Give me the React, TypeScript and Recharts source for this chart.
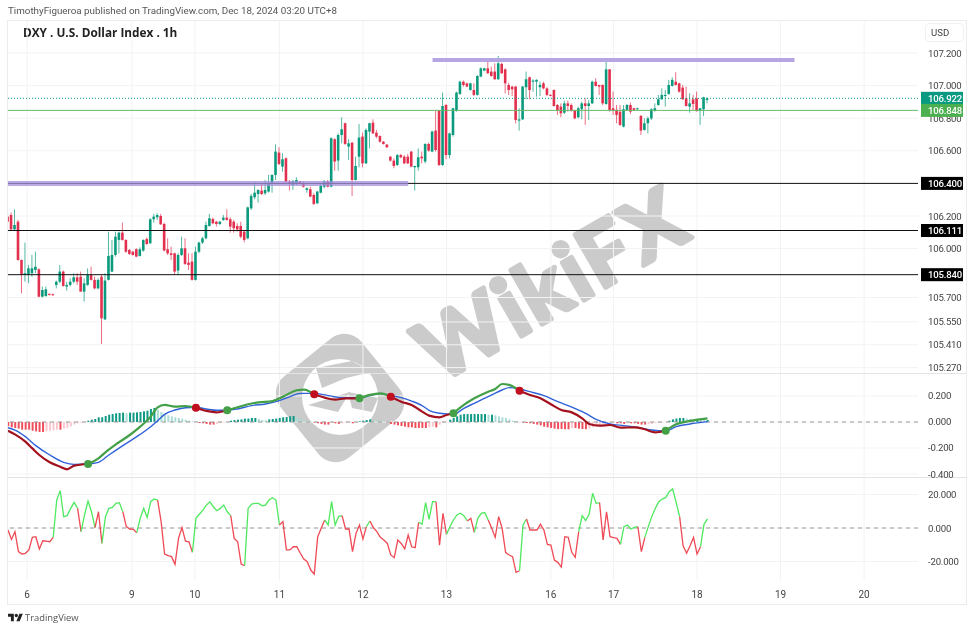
import {
  Bar,
  CartesianGrid,
  Cell,
  ComposedChart,
  Line,
  ReferenceDot,
  ReferenceLine,
  XAxis,
  YAxis,
} from "recharts";

const opens = [
  106.196, 106.206, 106.118, 106.165, 105.93, 105.838, 105.838, 105.849, 105.869, 105.873,
  105.705, 105.709, 105.722, 105.72, 105.777, 105.797, 105.859, 105.767, 105.777, 105.797,
  105.824, 105.828, 105.736, 105.777, 105.838, 105.808, 105.756, 105.828, 105.566, 105.808,
  105.859, 105.961, 106.053, 106.098, 106.053, 105.992, 105.981, 105.996, 105.955, 105.988,
  106.059, 106.033, 106.18, 106.192, 106.2, 106.151, 105.996, 105.971, 105.971, 105.865,
  105.961, 106.002, 105.914, 105.92, 105.808, 105.981, 106.037, 106.063, 106.139, 106.182,
  106.165, 106.151, 106.176, 106.19, 106.18, 106.165, 106.139, 106.139, 106.104, 106.063,
  106.247, 106.315, 106.335, 106.356, 106.339, 106.35, 106.397, 106.452, 106.589, 106.503,
  106.554, 106.411, 106.39, 106.397, 106.411, 106.401, 106.36, 106.364, 106.329, 106.278,
  106.343, 106.38, 106.411, 106.38, 106.671, 106.54, 106.697, 106.769, 106.626, 106.65,
  106.421, 106.564, 106.687, 106.523, 106.718, 106.773, 106.711, 106.691, 106.656, 106.638,
  106.564, 106.54, 106.513, 106.574, 106.564, 106.564, 106.595, 106.499, 106.499, 106.564,
  106.534, 106.642, 106.595, 106.724, 106.846, 106.513, 106.881, 106.574, 106.697, 106.846,
  106.949, 107.024, 107.014, 106.973, 106.973, 106.943, 107.055, 107.092, 107.106, 107.086,
  107.086, 107.039, 107.133, 107.1, 107.004, 106.994, 106.994, 106.785, 106.793, 106.99,
  107.051, 107.024, 107.024, 106.99, 107.014, 106.983, 106.943, 106.973, 106.881, 106.871,
  106.834, 106.891, 106.881, 106.846, 106.806, 106.855, 106.891, 106.875, 106.891, 107.024,
  107.004, 107.004, 106.887, 107.1, 106.861, 106.851, 106.84, 106.748, 106.851, 106.881,
  106.861, 106.855, 106.814, 106.728, 106.769, 106.799, 106.846, 106.881, 106.916, 106.936,
  106.949, 106.998, 107.024, 107.014, 106.988, 106.922, 106.871, 106.916, 106.922, 106.846,
  106.855, 106.912,
];

const highs = [
  106.206, 106.221, 106.241, 106.176, 105.934, 106.037, 105.9, 105.961, 105.981, 105.879,
  105.767, 105.767, 105.726, 105.724, 105.804, 105.9, 105.865, 105.797, 105.818, 105.849,
  105.849, 105.859, 105.818, 105.879, 105.889, 105.828, 105.818, 105.838, 105.849, 106.104,
  106.053, 106.104, 106.104, 106.159, 106.057, 105.996, 105.986, 106.002, 106.008, 106.057,
  106.069, 106.186, 106.213, 106.217, 106.213, 106.159, 106.063, 106.012, 105.975, 105.971,
  106.073, 106.063, 105.971, 105.971, 106.012, 106.043, 106.073, 106.165, 106.213, 106.19,
  106.17, 106.17, 106.206, 106.241, 106.192, 106.176, 106.155, 106.165, 106.11, 106.258,
  106.335, 106.411, 106.364, 106.401, 106.421, 106.452, 106.456, 106.64, 106.622, 106.585,
  106.56, 106.421, 106.421, 106.437, 106.415, 106.411, 106.376, 106.38, 106.339, 106.354,
  106.401, 106.421, 106.421, 106.683, 106.677, 106.707, 106.806, 106.773, 106.671, 106.654,
  106.564, 106.765, 106.711, 106.738, 106.773, 106.793, 106.728, 106.695, 106.66, 106.642,
  106.568, 106.554, 106.581, 106.581, 106.574, 106.581, 106.599, 106.507, 106.615, 106.595,
  106.646, 106.65, 106.724, 106.851, 106.851, 106.957, 106.887, 106.711, 106.865, 106.963,
  107.031, 107.031, 107.018, 107.018, 107.014, 107.065, 107.112, 107.11, 107.147, 107.116,
  107.137, 107.182, 107.141, 107.106, 107.018, 106.998, 106.998, 106.861, 106.998, 107.086,
  107.055, 107.039, 107.039, 107.024, 107.024, 106.99, 106.947, 106.977, 106.887, 106.891,
  106.908, 106.908, 106.891, 106.851, 106.871, 106.902, 106.922, 106.912, 107.031, 107.045,
  107.004, 107.008, 107.161, 107.1, 106.963, 106.881, 106.881, 106.881, 106.887, 106.896,
  106.865, 106.865, 106.82, 106.799, 106.81, 106.861, 106.891, 106.943, 106.983, 106.973,
  107.035, 107.051, 107.082, 107.018, 107.004, 106.994, 106.953, 106.943, 106.963, 106.861,
  106.932, 106.928,
];

const lows = [
  106.155, 106.114, 106.114, 105.926, 105.726, 105.797, 105.787, 105.828, 105.849, 105.701,
  105.701, 105.705, 105.712, 105.71, 105.756, 105.787, 105.767, 105.742, 105.767, 105.787,
  105.777, 105.736, 105.675, 105.771, 105.804, 105.75, 105.75, 105.415, 105.562, 105.804,
  105.855, 105.951, 105.971, 106.049, 105.975, 105.961, 105.957, 105.947, 105.951, 105.981,
  106.024, 106.028, 106.159, 106.176, 106.145, 105.983, 105.961, 105.93, 105.838, 105.838,
  105.955, 105.9, 105.869, 105.804, 105.804, 105.971, 106.028, 106.057, 106.135, 106.149,
  106.135, 106.145, 106.17, 106.172, 106.098, 106.098, 106.104, 106.063, 106.039, 106.057,
  106.237, 106.302, 106.282, 106.329, 106.329, 106.343, 106.343, 106.421, 106.513, 106.472,
  106.401, 106.356, 106.36, 106.39, 106.397, 106.374, 106.343, 106.315, 106.268, 106.274,
  106.339, 106.37, 106.376, 106.376, 106.478, 106.478, 106.646, 106.636, 106.544, 106.323,
  106.417, 106.499, 106.499, 106.519, 106.615, 106.703, 106.677, 106.65, 106.638, 106.617,
  106.534, 106.493, 106.507, 106.554, 106.519, 106.519, 106.499, 106.356, 106.478, 106.523,
  106.523, 106.595, 106.591, 106.595, 106.507, 106.507, 106.548, 106.554, 106.687, 106.84,
  106.943, 106.994, 106.99, 106.969, 106.936, 106.938, 107.051, 107.088, 107.071, 107.055,
  107.035, 107.035, 107.071, 106.953, 106.943, 106.936, 106.769, 106.724, 106.789, 106.916,
  106.916, 106.963, 106.932, 106.936, 106.977, 106.936, 106.934, 106.871, 106.82, 106.806,
  106.826, 106.84, 106.84, 106.793, 106.799, 106.793, 106.759, 106.789, 106.887, 106.994,
  106.943, 106.881, 106.883, 106.84, 106.82, 106.769, 106.752, 106.744, 106.846, 106.826,
  106.846, 106.851, 106.697, 106.724, 106.707, 106.789, 106.84, 106.877, 106.912, 106.871,
  106.943, 106.994, 107.0, 106.957, 106.912, 106.871, 106.834, 106.851, 106.84, 106.759,
  106.814, 106.891,
];

const closes = [
  106.165, 106.118, 106.145, 105.93, 105.838, 105.849, 105.879, 105.879, 105.889, 105.705,
  105.746, 105.75, 105.716, 105.714, 105.797, 105.859, 105.771, 105.777, 105.797, 105.824,
  105.797, 105.736, 105.787, 105.838, 105.808, 105.756, 105.808, 105.572, 105.804, 105.955,
  105.961, 106.073, 106.098, 106.053, 105.981, 105.967, 105.961, 105.951, 105.996, 106.053,
  106.028, 106.18, 106.196, 106.206, 106.149, 105.988, 105.971, 105.961, 105.859, 105.961,
  106.002, 105.906, 105.9, 105.808, 105.981, 106.037, 106.063, 106.145, 106.186, 106.155,
  106.151, 106.165, 106.19, 106.176, 106.135, 106.125, 106.118, 106.073, 106.053, 106.253,
  106.323, 106.343, 106.36, 106.335, 106.36, 106.397, 106.452, 106.595, 106.519, 106.548,
  106.411, 106.401, 106.415, 106.421, 106.401, 106.38, 106.37, 106.319, 106.274, 106.35,
  106.384, 106.411, 106.38, 106.677, 106.534, 106.697, 106.732, 106.642, 106.646, 106.421,
  106.507, 106.681, 106.523, 106.728, 106.769, 106.707, 106.687, 106.656, 106.642, 106.622,
  106.54, 106.507, 106.574, 106.56, 106.523, 106.523, 106.503, 106.507, 106.56, 106.554,
  106.642, 106.601, 106.718, 106.605, 106.513, 106.875, 106.574, 106.707, 106.861, 106.957,
  107.024, 107.004, 106.994, 107.014, 106.943, 107.059, 107.106, 107.106, 107.076, 107.059,
  107.039, 107.137, 107.076, 107.014, 106.973, 106.977, 106.789, 106.793, 106.994, 107.039,
  106.973, 107.031, 107.035, 107.004, 106.983, 106.943, 106.938, 106.875, 106.846, 106.83,
  106.891, 106.875, 106.846, 106.799, 106.861, 106.891, 106.875, 106.891, 107.024, 106.998,
  106.994, 106.891, 107.1, 106.851, 106.846, 106.82, 106.759, 106.855, 106.881, 106.84,
  106.851, 106.861, 106.724, 106.769, 106.799, 106.855, 106.861, 106.916, 106.943, 106.943,
  107.004, 107.035, 107.004, 106.963, 106.916, 106.875, 106.891, 106.887, 106.844, 106.861,
  106.928, 106.922,
];

const histogram = [
  -0.033, -0.041, -0.046, -0.051, -0.059, -0.059, -0.059, -0.067, -0.072, -0.077, -0.077,
  -0.072, -0.067, -0.064, -0.059, -0.059, -0.051, -0.046, -0.033, -0.02, -0.01, -0.005, -0.003,
  0.01, 0.018, 0.023, 0.036, 0.036, 0.046, 0.056, 0.061, 0.067, 0.069, 0.072, 0.067, 0.072, 0.072,
  0.074, 0.077, 0.082, 0.087, 0.1, 0.108,
  0.095, 0.077, 0.061, 0.051, 0.044, 0.036, 0.031, 0.026, 0.018, 0.01, 0.005, 0.003,
  -0.008, -0.01, -0.015, -0.02, -0.02, -0.015, -0.01, -0.005, 0.001,
  0.01, 0.015, 0.018, 0.02, 0.026, 0.026, 0.031, 0.031, 0.023, 0.015, 0.013, 0.02, 0.023, 0.026,
  0.031, 0.036, 0.038, 0.044, 0.046, 0.036, 0.026, 0.013, 0.005, 0.003,
  -0.005, -0.01, -0.015, -0.02, -0.02, -0.008, -0.01, -0.015, -0.01, -0.005, -0.003, -0.01, -0.003,
  0.005, 0.01, 0.015, 0.02, 0.015, 0.01, 0.008, 0.005, -0.003,
  -0.015, -0.02, -0.026, -0.031, -0.036, -0.041, -0.041, -0.046, -0.046, -0.046, -0.046, -0.041,
  -0.036, -0.041, -0.02, -0.008, -0.003,
  0.018, 0.031, 0.044, 0.056, 0.061, 0.061, 0.061, 0.061, 0.061, 0.061, 0.061, 0.056, 0.056, 0.051,
  0.044, 0.036, 0.031, 0.02, 0.01, 0.005,
  -0.003, -0.005, -0.008, -0.01, -0.015, -0.02, -0.026, -0.036, -0.041, -0.046, -0.051, -0.054,
  -0.054, -0.056, -0.056, -0.046, -0.046, -0.051, -0.054, -0.056, -0.051,
  -0.041, -0.033, -0.026, -0.015, -0.01, -0.008, -0.005, -0.01, -0.01, -0.015, -0.01, -0.01, -0.01,
  -0.015, -0.02, -0.02, -0.018, -0.015, -0.01, -0.008, -0.005, -0.003,
  0.01, 0.02, 0.026, 0.031, 0.031, 0.026, 0.023, 0.02, 0.02, 0.018, 0.015, 0.015,
];

const macdBars = [
  0, 2, 5, 7, 9, 12, 15, 17, 19, 23, 26, 28, 31, 35, 38, 41, 43, 45, 48, 51, 54, 57, 60, 63, 66,
  69, 72, 76, 79, 83, 85, 88, 91, 94, 97, 101, 104, 107, 110, 113, 116, 119, 121, 124, 126, 128,
  131, 134, 138, 140, 142, 144, 147, 150, 153, 156, 159, 162, 165, 167, 170, 173, 176, 180, 183,
  186, 189, 192, 196, 201,
];
const macdValues = [
  -0.067, -0.095, -0.151, -0.203, -0.254, -0.31, -0.344, -0.364, -0.336, -0.323, -0.28, -0.233,
  -0.172, -0.1, -0.036, 0.041, 0.113, 0.131, 0.118, 0.123, 0.11, 0.085, 0.074, 0.09, 0.113, 0.136,
  0.151, 0.161, 0.195, 0.244, 0.249, 0.213, 0.187, 0.172, 0.182, 0.182, 0.208, 0.22, 0.195, 0.156,
  0.131, 0.08, 0.049, 0.036, 0.054, 0.067, 0.131, 0.182, 0.233, 0.254, 0.292, 0.285, 0.241, 0.208,
  0.182, 0.136, 0.092, 0.074, 0.028, -0.015, -0.028, -0.023, -0.044, -0.041, -0.056, -0.08, -0.067,
  -0.018, 0.008, 0.028,
];

const signalBars = [
  0, 2, 5, 8, 12, 16, 19, 23, 26, 29, 33, 37, 41, 43, 45, 48, 51, 54, 57, 60, 63, 66, 70, 74, 77,
  81, 84, 88, 92, 96, 101, 104, 107, 110, 113, 116, 119, 121, 124, 128, 131, 134, 138, 142, 144,
  147, 150, 154, 158, 162, 166, 169, 173, 177, 181, 185, 189, 192, 196, 201,
];
const signalValues = [
  -0.044, -0.062, -0.113, -0.182, -0.254, -0.31, -0.326, -0.323, -0.31, -0.254, -0.182, -0.113,
  -0.036, 0.01, 0.059, 0.092, 0.11, 0.113, 0.1, 0.09, 0.09, 0.1, 0.126, 0.138, 0.156, 0.195, 0.22,
  0.22, 0.203, 0.187, 0.187, 0.203, 0.218, 0.203, 0.187, 0.161, 0.126, 0.09, 0.067, 0.059, 0.105,
  0.144, 0.195, 0.246, 0.264, 0.254, 0.233, 0.203, 0.156, 0.115, 0.067, 0.02, -0.015, -0.028,
  -0.041, -0.062, -0.069, -0.036, -0.015, 0.003,
];

// bars where the macd line crosses its signal, the first one turns it green
const crossBars = [23, 54, 63, 88, 101, 110, 128, 147, 189];

const oscValues = [
  -1.2, -6.8, -2.2, -14.1, -15.5, -15.1, -13.1, -5.6, -5.2, -12.5,
  -7.6, -7.8, -8.2, -5.6, 16.7, 22.3, 6.8, 7.4, 11.7, 15.3,
  11.7, -2.2, 7.8, 16.1, 9.7, 0.2, 9.7, -9.2, 6.8, 11.7,
  12.3, 14.7, 15.1, 9.7, 0.8, -0.6, -0.8, -2.8, 5.8, 11.7,
  6.3, 15.7, 17.3, 16.7, 3.8, -15.5, -16.5, -17.1, -21.7, -6.2,
  0.2, -7.8, -8.2, -14.5, 5.8, 8.2, 10.7, 13.7, 15.7, 12.7,
  10.3, 11.7, 13.7, 9.7, 7.4, -6.2, -8.2, -21.5, -22.5, 11.7,
  14.3, 14.7, 14.7, 13.3, 13.7, 16.7, 18.1, 16.7, 1.8, 3.8,
  -13.1, -13.1, -11.2, -11.2, -15.1, -18.5, -20.1, -25.1, -27.5, -5.2,
  -0.2, 4.8, 1.8, 15.7, 1.8, 6.8, 7.4, -0.6, -0.6, -14.1,
  -3.2, 1.8, -6.6, 0.8, 4.2, 0.2, -2.2, -5.6, -7.2, -9.2,
  -16.1, -17.7, -7.2, -9.2, -12.5, -4.2, -11.2, -11.7, 3.4, 2.2,
  15.1, 5.2, 15.7, 15.7, -10.2, 8.8, -3.8, 0.8, 4.8, 7.8,
  8.8, 7.4, 4.2, 5.8, -2.6, 5.8, 8.8, 9.2, 4.8, -0.2,
  -5.6, 6.8, -0.2, -14.7, -16.1, -17.1, -26.5, -25.5, 1.8, 5.4,
  -1.2, -1.2, -1.2, 2.2, -1.2, -9.8, -10.2, -19.1, -20.5, -23.3,
  -5.2, -5.6, -14.5, -17.5, -2.2, 7.4, 4.4, 8.2, 20.7, 14.7,
  15.1, -7.2, 9.7, -5.2, -5.8, -6.2, -9.8, 0.8, 1.8, -0.6,
  0.4, 0.8, -14.1, -5.6, 0.8, 6.8, 11.7, 15.7, 17.3, 18.1,
  21.7, 23.3, 15.3, 6.8, -10.6, -15.1, -10.6, -5.6, -15.5, -11.2,
  2.2, 5.4,
];

// bars where the oscillator line flips colour, it starts red
const oscFlips = [
  13, 20, 21, 25, 27, 33, 37, 43, 53, 64, 68, 78, 91, 96, 103, 104, 118, 123, 126, 132, 134, 138,
  147, 149, 164, 170, 176, 181, 183, 193, 199,
];

const dayTicks = [5.5, 35.6, 53.7, 78, 102, 126, 156, 174, 198, 222, 246];
const dayLabels = ["6", "9", "10", "11", "12", "13", "16", "17", "18", "19", "20"];

const priceTicks = [107.2, 107, 106.8, 106.6, 106.2, 106, 105.7, 105.55, 105.41, 105.27];
const priceBadges = [
  { value: 106.4, color: "#000000" },
  { value: 106.111, color: "#000000" },
  { value: 105.84, color: "#000000" },
  { value: 106.922, color: "#089981" },
  { value: 106.848, color: "#4caf50" },
];
const macdTicks = [0.2, 0, -0.2, -0.4];
const oscTicks = [20, 0, -20];

const resistanceLevel = 107.157;
const supportLevel = 106.4;
const blackLevels = [106.4, 106.111, 105.84];

const BAR_DOMAIN: [number, number] = [0, 261.5];
const CHART_W = 959;
const AXIS_W = 49;
const GREEN = "#0b9a7d";
const RED = "#e2304f";
const GRID = "#f3f3f3";
const AXIS_FONT = "Roboto, sans-serif";
const AXIS_SIZE = 9.6;

const candles = opens.map((open, i) => ({
  i,
  open,
  high: highs[i],
  low: lows[i],
  close: closes[i],
  range: [lows[i], highs[i]],
}));

const histRows = histogram.map((hist, i) => ({ i, hist }));

function histColor(i: number) {
  const v = histogram[i];
  const growing = i === 0 || Math.abs(v) >= Math.abs(histogram[i - 1]);
  if (v >= 0) return growing ? "#0e9a86" : "#a9dcd4";
  return growing ? "#ef4f5c" : "#fbc8cf";
}

const macdPoints = macdBars.map((i, k) => ({ i, v: macdValues[k] }));
const signalPoints = signalBars.map((i, k) => ({ i, v: signalValues[k] }));

const macdStops = [0, ...crossBars, 201];
const macdRuns = macdStops.slice(0, -1).map((from, k) => ({
  color: k % 2 === 0 ? "#a3121f" : "#43a047",
  rows: macdPoints.filter((p) => p.i >= from && p.i <= macdStops[k + 1]),
}));

const oscStops = [0, ...oscFlips, 201];
const oscRuns = oscStops.slice(0, -1).map((from, k) => ({
  color: k % 2 === 0 ? "#ef4a55" : "#4fe85f",
  rows: oscValues
    .map((v, i) => ({ i, v }))
    .filter((p) => p.i >= from && p.i <= oscStops[k + 1]),
}));

function Candle(props: any) {
  const { x, y, width, height, payload } = props;
  const up = payload.close >= payload.open;
  const color = up ? GREEN : RED;
  const span = payload.high - payload.low || 1;
  const top = Math.max(payload.open, payload.close);
  const bottom = Math.min(payload.open, payload.close);
  const bodyY = y + ((payload.high - top) / span) * height;
  const bodyH = ((top - bottom) / span) * height;
  return (
    <g>
      <rect x={x + width / 2 - 0.5} y={y} width={1} height={height} fill={color} opacity={0.7} />
      <rect x={x} y={bodyY} width={width} height={Math.max(bodyH, 1)} fill={color} />
    </g>
  );
}

function PriceTick(props: any) {
  const { x, y, payload } = props;
  const badge = priceBadges.find((b) => b.value === payload.value);
  const label = payload.value.toFixed(3);
  if (!badge) {
    return (
      <text x={x + 10} y={y + 3.5} fontSize={AXIS_SIZE} letterSpacing={-0.2} fill="#444" fontFamily={AXIS_FONT}>
        {label}
      </text>
    );
  }
  return (
    <g>
      <rect x={x + 3} y={y - 6.5} width={42} height={13} fill={badge.color} />
      <text x={x + 10} y={y + 3.5} fontSize={AXIS_SIZE} letterSpacing={-0.2} fontWeight={500} fill="#fff" fontFamily={AXIS_FONT}>
        {label}
      </text>
    </g>
  );
}

function PlainTick(props: any) {
  const { x, y, payload } = props;
  return (
    <text x={x + 10} y={y + 3.5} fontSize={AXIS_SIZE} letterSpacing={-0.2} fill="#444" fontFamily={AXIS_FONT}>
      {payload.value.toFixed(3)}
    </text>
  );
}

function Watermark() {
  return (
    <svg
      width={975}
      height={631}
      style={{ position: "absolute", left: 0, top: 0 }}
    >
      <g fill="#cbcbcb">
        <rect
          x={288}
          y={346}
          width={104}
          height={104}
          rx={22}
          transform="rotate(-39 340 398)"
        />
        <circle cx={340} cy={397} r={38} fill="#ffffff" />
        <path d="M316 368 L352 361 L372 372 L346 378 L322 388 Z" />
        <path d="M308 405 L350 392 L338 412 Z" />
        <path d="M348 392 L378 398 L372 412 L352 408 Z" />
      </g>
      <text
        x={552}
        y={314}
        transform="rotate(-30 552 285)"
        textAnchor="middle"
        fontFamily="Lato, sans-serif"
        fontWeight={700}
        fontSize={84}
        letterSpacing={3}
        fill="#cbcbcb"
        stroke="#cbcbcb"
        strokeWidth={5}
        strokeLinejoin="round"
      >
        WikiFX
      </text>
    </svg>
  );
}

function TvLogo() {
  return (
    <svg
      width={15}
      height={12}
      viewBox="0 0 36 28"
      style={{ position: "absolute", left: 8, top: 612 }}
    >
      <path d="M14 22H7V11H0V4h14v18zM28 22h-8l7.5-18h8L28 22z" fill="#222" />
      <circle cx={20} cy={8} r={4} fill="#222" />
    </svg>
  );
}

export default function App() {
  return (
    <div
      style={{
        position: "absolute",
        left: 0,
        top: 0,
        width: 975,
        height: 631,
        background: "#fff",
        overflow: "hidden",
        filter: "blur(0.4px)",
      }}
    >
      <Watermark />

      <div
        style={{
          position: "absolute",
          left: 8,
          top: 5,
          fontFamily: "Roboto, sans-serif",
          fontSize: 9.8,
          color: "#555",
          whiteSpace: "nowrap",
        }}
      >
        TimothyFigueroa published on TradingView.com, Dec 18, 2024 03:20 UTC+8
      </div>
      <div
        style={{
          position: "absolute",
          left: 23,
          top: 24,
          fontFamily: "'Open Sans', sans-serif",
          fontSize: 11.8,
          fontWeight: 700,
          color: "#222",
          whiteSpace: "nowrap",
        }}
      >
        DXY . U.S. Dollar Index . 1h
      </div>

      {/* frame and panel separators */}
      <div
        style={{
          position: "absolute",
          left: 7,
          top: 20,
          width: 960,
          height: 585,
          border: "1px solid #ececec",
          boxSizing: "border-box",
        }}
      />
      <div style={{ position: "absolute", left: 8, top: 373, width: 959, height: 1, background: "#e4e4e4" }} />
      <div style={{ position: "absolute", left: 8, top: 477, width: 959, height: 1, background: "#e4e4e4" }} />

      <div
        style={{
          position: "absolute",
          left: 925,
          top: 23,
          width: 39,
          height: 19,
          border: "1px solid #f0f0f0",
          borderRadius: 4,
          boxSizing: "border-box",
          fontFamily: AXIS_FONT,
          fontSize: AXIS_SIZE,
          color: "#444",
          lineHeight: "18px",
          paddingLeft: 5,
        }}
      >
        USD
      </div>

      <div style={{ position: "absolute", left: 8, top: 20 }}>
        <ComposedChart
          width={CHART_W}
          height={353}
          data={candles}
          margin={{ top: 0, right: 0, bottom: 0, left: 0 }}
        >
          <CartesianGrid
            stroke={GRID}
            horizontalValues={priceTicks}
            verticalValues={dayTicks}
          />
          <XAxis type="number" dataKey="i" domain={BAR_DOMAIN} hide allowDataOverflow />
          <YAxis
            orientation="right"
            width={AXIS_W}
            domain={[105.2368, 107.4025]}
            allowDataOverflow
            ticks={[...priceTicks, ...priceBadges.map((b) => b.value)]}
            interval={0}
            axisLine={false}
            tickLine={false}
            tickSize={0}
            tickMargin={0}
            tick={PriceTick}
          />
          {blackLevels.map((level) => (
            <ReferenceLine key={level} y={level} stroke="#111" strokeWidth={1} />
          ))}
          <ReferenceLine y={106.922} stroke="#089981" strokeWidth={1} strokeDasharray="1 2" />
          <ReferenceLine y={106.848} stroke="#66b96a" strokeWidth={1} />
          <Bar
            dataKey="range"
            barSize={2.6}
            isAnimationActive={false}
            shape={Candle}
          />
          <ReferenceLine
            segment={[
              { x: 0, y: supportLevel },
              { x: 115, y: supportLevel },
            ]}
            stroke="#a48fdc"
            strokeOpacity={0.75}
            strokeWidth={5}
          />
          <ReferenceLine
            segment={[
              { x: 122, y: resistanceLevel },
              { x: 226, y: resistanceLevel },
            ]}
            stroke="#b5a5e2"
            strokeWidth={4}
          />
        </ComposedChart>
      </div>

      <div style={{ position: "absolute", left: 8, top: 374 }}>
        <ComposedChart
          width={CHART_W}
          height={107}
          data={histRows}
          margin={{ top: 0, right: 0, bottom: 4, left: 0 }}
        >
          <CartesianGrid
            stroke={GRID}
            horizontalValues={macdTicks}
            verticalValues={dayTicks}
          />
          <XAxis type="number" dataKey="i" domain={BAR_DOMAIN} hide allowDataOverflow />
          <YAxis
            orientation="right"
            width={AXIS_W}
            domain={[-0.423, 0.369]}
            allowDataOverflow
            ticks={macdTicks}
            interval={0}
            axisLine={false}
            tickLine={false}
            tickSize={0}
            tickMargin={0}
            tick={PlainTick}
          />
          <ReferenceLine y={0} stroke="#9a9a9a" strokeDasharray="4 4" />
          <Bar dataKey="hist" barSize={2} isAnimationActive={false}>
            {histRows.map((row) => (
              <Cell key={row.i} fill={histColor(row.i)} />
            ))}
          </Bar>
          <Line
            data={signalPoints}
            dataKey="v"
            type="monotone"
            stroke="#2f62d8"
            strokeWidth={1.4}
            dot={false}
            isAnimationActive={false}
          />
          {macdRuns.map((run, k) => (
            <Line
              key={k}
              data={run.rows}
              dataKey="v"
              type="monotone"
              stroke={run.color}
              strokeWidth={2.2}
              dot={false}
              isAnimationActive={false}
            />
          ))}
          {crossBars.map((bar, k) => (
            <ReferenceDot
              key={bar}
              x={bar}
              y={macdValues[macdBars.indexOf(bar)]}
              r={4}
              fill={k % 2 === 0 ? "#43a047" : "#c0101f"}
              stroke="none"
            />
          ))}
        </ComposedChart>
      </div>

      <div style={{ position: "absolute", left: 8, top: 478 }}>
        <ComposedChart
          width={CHART_W}
          height={127}
          data={candles}
          margin={{ top: 0, right: 0, bottom: 0, left: 0 }}
        >
          <CartesianGrid
            stroke={GRID}
            horizontalValues={oscTicks}
            verticalValues={dayTicks}
          />
          <XAxis
            type="number"
            dataKey="i"
            domain={BAR_DOMAIN}
            allowDataOverflow
            height={25}
            ticks={dayTicks}
            interval={0}
            axisLine={false}
            tickLine={false}
            tickMargin={5}
            tick={{ fontSize: 10, fill: "#444", fontFamily: AXIS_FONT }}
            tickFormatter={(v: number) => dayLabels[dayTicks.indexOf(v)]}
          />
          <YAxis
            orientation="right"
            width={AXIS_W}
            domain={[-31.04, 29.85]}
            allowDataOverflow
            ticks={oscTicks}
            interval={0}
            axisLine={false}
            tickLine={false}
            tickSize={0}
            tickMargin={0}
            tick={PlainTick}
          />
          <ReferenceLine y={0} stroke="#9a9a9a" strokeDasharray="4 4" />
          {oscRuns.map((run, k) => (
            <Line
              key={k}
              data={run.rows}
              dataKey="v"
              stroke={run.color}
              strokeWidth={1.3}
              dot={false}
              isAnimationActive={false}
            />
          ))}
        </ComposedChart>
      </div>

      <TvLogo />
      <div
        style={{
          position: "absolute",
          left: 25,
          top: 611,
          fontFamily: "'Open Sans', sans-serif",
          fontSize: 9.4,
          color: "#555",
        }}
      >
        TradingView
      </div>
    </div>
  );
}
